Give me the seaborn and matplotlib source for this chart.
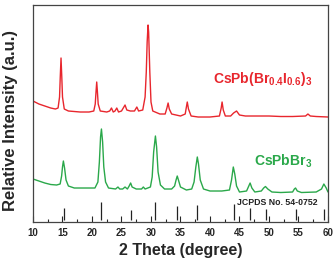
import numpy as np
import pandas as pd
import matplotlib
matplotlib.use('Agg')
import matplotlib.pyplot as plt
from matplotlib.ticker import MultipleLocator
import seaborn as sns

# XRD patterns (2theta, relative intensity)
red_theta = [10.0, 11.0, 12.0, 13.0, 13.8, 14.25, 14.5, 14.62, 14.75, 14.88, 15.0, 15.3, 16, 18, 19.5,
             20.3, 20.55, 20.68, 20.8, 20.92, 21.05, 21.4, 22.5, 23.0, 23.3, 23.6, 23.9, 24.2, 24.5,
             25.0, 25.3, 25.6, 25.9, 26.5, 27.2, 27.6, 27.9, 28.6, 29.0, 29.2, 29.35, 29.5, 29.6, 29.8,
             30.0, 30.3, 31.5, 32.4, 32.7, 32.9, 33.1, 33.5, 35.0, 35.8, 36.0, 36.15, 36.35, 36.8, 38,
             40, 41.6, 41.9, 42.05, 42.25, 42.6, 43.5, 44.0, 44.5, 45.0, 46, 48, 50, 52, 54, 56.2,
             56.6, 57.0, 58, 60]
red_int = [121, 118, 116, 114, 113, 114, 125, 145, 164, 145, 125, 113, 111, 110, 110,
           111, 118, 130, 140, 130, 118, 111, 110, 111, 114, 110, 111, 114, 110,
           111, 114, 117, 112, 111, 111, 115, 111, 112, 125, 150, 180, 197, 190, 150,
           120, 111, 108, 108, 114, 119, 113, 108, 106, 108, 115, 120, 113, 106, 105,
           105, 106, 114, 120, 112, 106, 106, 109, 111, 107, 106, 106, 106, 105.5, 105.5, 106,
           108, 106, 105.5, 105]

green_theta = [10.0, 11, 12, 13, 14, 14.6, 14.85, 15.0, 15.15, 15.35, 15.6, 16.0, 17, 19, 20.5,
               21.0, 21.25, 21.45, 21.6, 21.8, 22.0, 22.3, 22.8, 24, 24.4, 24.7, 25.2, 25.6, 26.0,
               26.3, 26.55, 26.8, 27.5, 28.4, 28.7, 29.0, 29.9, 30.2, 30.45, 30.75, 30.95, 31.2,
               31.6, 32.3, 33.5, 34.0, 34.25, 34.45, 34.7, 35.0, 36, 36.9, 37.3, 37.6, 37.85, 38.05,
               38.35, 38.9, 40, 42, 43.3, 43.65, 43.95, 44.2, 44.5, 45, 46.2, 46.5, 46.8, 47.1, 47.6,
               48.7, 49.1, 49.4, 49.8, 50.5, 52, 54, 54.3, 54.5, 54.8, 55.5, 58, 58.9, 59.3, 59.7, 60]
green_int = [43, 41, 39, 37.5, 37, 38, 46, 55, 61, 54, 42, 36, 34, 34, 34,
             40, 60, 85, 93, 80, 55, 40, 34, 33, 35, 33, 33, 35, 33,
             36, 39, 35, 33, 33, 35, 33, 35, 45, 70, 86, 75, 50,
             37, 33, 33, 36, 42, 46, 41, 35, 32, 33, 40, 55, 65, 58,
             42, 33, 31, 31, 32, 42, 55, 48, 36, 30, 31, 35, 39, 34, 30,
             31, 34, 35.5, 33, 30, 29.5, 30, 33, 34, 31, 29.5, 30, 33, 38, 34, 30]

# JCPDS No. 54-0752 reference lines
ref_theta = [15.25, 21.6, 26.55, 30.7, 34.45, 37.85, 44.05, 46.8, 49.5, 54.6, 59.3]
ref_int = [12, 18, 10, 18, 14, 15, 16, 12, 11, 11, 11]

red = '#e8262d'
green = '#2aa84a'

sns.set_style('ticks')
plt.rcParams['font.family'] = ['Liberation Sans', 'DejaVu Sans']
plt.rcParams['font.weight'] = 'bold'
plt.rcParams['mathtext.fontset'] = 'custom'
plt.rcParams['mathtext.rm'] = 'Liberation Sans:bold'
plt.rcParams['mathtext.bf'] = 'Liberation Sans:bold'
plt.rcParams['mathtext.default'] = 'bf'

df_red = pd.DataFrame({'theta': red_theta, 'I': red_int})
df_green = pd.DataFrame({'theta': green_theta, 'I': green_int})

fig = plt.figure(figsize=(3.34, 2.58), dpi=100)
ax = fig.add_axes([0.0988, 0.1395, 0.8832, 0.8411])

sns.lineplot(data=df_red, x='theta', y='I', color=red, lw=1.0, ax=ax, sort=False)
sns.lineplot(data=df_green, x='theta', y='I', color=green, lw=1.0, ax=ax, sort=False)
ax.vlines(ref_theta, 2, [2 + v for v in ref_int], color='#222222', lw=0.9)

ax.set_xlim(10, 60)
ax.set_ylim(0, 217)
ax.xaxis.set_major_locator(MultipleLocator(5))
ax.xaxis.set_minor_locator(MultipleLocator(2.5))
ax.tick_params(axis='x', which='major', direction='in', length=4, width=0.8, labelsize=7, pad=4)
ax.tick_params(axis='x', which='minor', direction='in', length=2.5, width=0.8)
ax.set_yticks([])
for sp in ax.spines.values():
    sp.set_visible(True)
    sp.set_color('#444444')
    sp.set_linewidth(0.9)

ax.set_xlabel('2 Theta (degree)', fontsize=11.5, fontweight='bold')
ax.xaxis.set_label_coords(0.5, -0.097)
ax.set_ylabel('Relative Intensity (a.u.)', fontsize=12, fontweight='bold')
ax.yaxis.set_label_coords(-0.051, 0.468)

ax.text(0.61, 0.66, r'CsPb(Br$_{0.4}$I$_{0.6}$)$_3$', transform=ax.transAxes,
        color=red, fontsize=10, fontweight='bold', va='center')
ax.text(0.75, 0.28, r'CsPbBr$_3$', transform=ax.transAxes,
        color=green, fontsize=10, fontweight='bold', va='center')
ax.text(0.693, 0.09, 'JCPDS No. 54-0752', transform=ax.transAxes,
        color='#222222', fontsize=6.3, fontweight='bold', va='center')

fig.savefig('out.png', dpi=100)
